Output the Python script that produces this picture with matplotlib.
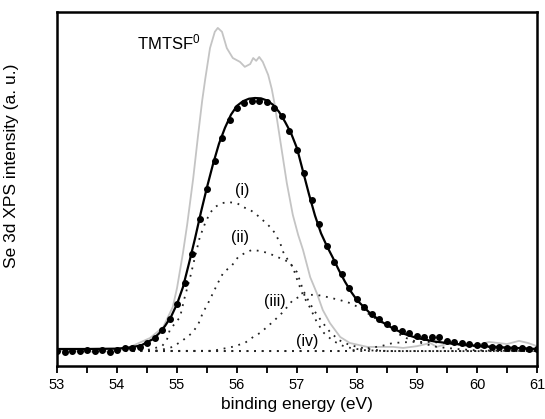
import matplotlib
matplotlib.use("Agg")
import matplotlib.pyplot as plt
from matplotlib.ticker import MultipleLocator, NullLocator

plt.rcParams['font.family'] = ['Liberation Sans', 'DejaVu Sans']
plt.rcParams['mathtext.fontset'] = 'custom'
plt.rcParams['mathtext.rm'] = 'Liberation Sans'
plt.rcParams['mathtext.it'] = 'Liberation Sans:italic'

# ---- measured data (dots) ----
data_x = [53.0, 53.125, 53.25, 53.375, 53.5, 53.625, 53.75, 53.875, 54.0, 54.125,
          54.25, 54.375, 54.5, 54.625, 54.75, 54.875, 55.0, 55.125, 55.25, 55.375,
          55.5, 55.625, 55.75, 55.875, 56.0, 56.125, 56.25, 56.375, 56.5, 56.625,
          56.75, 56.875, 57.0, 57.125, 57.25, 57.375, 57.5, 57.625, 57.75, 57.875,
          58.0, 58.125, 58.25, 58.375, 58.5, 58.625, 58.75, 58.875, 59.0, 59.125,
          59.25, 59.375, 59.5, 59.625, 59.75, 59.875, 60.0, 60.125, 60.25, 60.375,
          60.5, 60.625, 60.75, 60.875, 61.0]
data_y = [4.3, 4.0, 4.3, 4.1, 4.5, 4.2, 4.4, 4.0, 4.6, 5.0,
          5.2, 5.5, 6.5, 7.8, 10.2, 13.4, 17.5, 23.5, 31.5, 41.5,
          50.0, 58.0, 64.5, 69.5, 72.8, 74.2, 74.8, 74.9, 74.6, 73.0,
          70.5, 66.5, 61.0, 54.5, 47.0, 40.0, 34.0, 29.5, 26.0, 22.0,
          19.0, 16.8, 14.8, 13.3, 11.8, 10.8, 9.8, 9.2, 8.5, 8.3,
          8.3, 8.2, 7.0, 6.8, 6.5, 6.2, 6.0, 5.8, 5.5, 5.3,
          5.2, 5.0, 5.0, 4.8, 4.9]

# ---- fit envelope (solid line) ----
fit_x = [53.0, 53.5, 54.0, 54.2, 54.4, 54.6, 54.7, 54.8, 54.9, 55.0, 55.1, 55.2,
         55.3, 55.4, 55.5, 55.6, 55.7, 55.8, 55.9, 56.0, 56.1, 56.2, 56.3, 56.4,
         56.5, 56.6, 56.7, 56.8, 56.9, 57.0, 57.1, 57.2, 57.3, 57.4, 57.5, 57.6,
         57.7, 57.8, 57.9, 58.0, 58.2, 58.4, 58.6, 58.8, 59.0, 59.3, 59.6, 60.0,
         60.5, 61.0]
fit_y = [4.8, 4.8, 4.9, 5.2, 5.8, 7.6, 9.2, 11.3, 13.9, 17.5, 22.3, 29.0,
         36.0, 43.5, 50.5, 57.0, 62.8, 67.3, 71.0, 73.5, 74.8, 75.5, 75.7, 75.6,
         75.0, 73.8, 71.8, 69.0, 65.8, 61.5, 55.0, 48.5, 42.5, 37.5, 33.8, 30.5,
         27.0, 23.8, 21.0, 18.6, 15.2, 12.6, 10.6, 9.0, 7.9, 6.9, 6.3, 5.7,
         5.2, 4.8]

# ---- TMTSF0 reference spectrum (grey) ----
ref_x = [53.0, 53.5, 54.0, 54.22, 54.55, 54.77, 54.93, 55.0, 55.05, 55.1, 55.17, 55.27,
         55.35, 55.42, 55.47, 55.55, 55.63, 55.68, 55.75, 55.83, 55.93,
         56.05, 56.13, 56.22, 56.27, 56.32, 56.37, 56.43, 56.52, 56.58, 56.63,
         56.72, 56.83, 56.93, 57.02, 57.1, 57.22, 57.33, 57.43, 57.55, 57.72,
         57.88, 58.17, 58.6, 58.77, 59.0, 59.22, 59.33, 59.55, 59.8, 60.0,
         60.2, 60.5, 60.7, 60.85, 61.0]
ref_y = [4.4, 4.0, 4.2, 5.4, 7.9, 11.0, 16.7, 22.0, 27.0, 32.0, 40.0, 53.0,
         65.0, 75.0, 81.0, 89.8, 94.4, 95.5, 94.4, 89.8, 87.0,
         85.9, 84.5, 85.3, 87.0, 86.2, 87.3, 85.9, 82.2, 78.2, 73.7,
         63.8, 51.7, 42.7, 37.0, 32.8, 25.1, 20.6, 15.8, 12.1, 8.2,
         6.5, 5.4, 5.4, 5.1, 5.6, 6.5, 5.4, 6.5, 5.6, 5.9,
         6.8, 6.2, 7.1, 6.5, 5.6]

# ---- fitted components (dotted) ----
base_x = [53.0, 61.0]
base_y = [4.2, 4.2]

c1_x = [53.0, 54.5, 54.75, 54.83, 54.88, 55.05, 55.13, 55.22, 55.3, 55.38, 55.47,
        55.55, 55.63, 55.75, 55.85, 56.0, 56.1, 56.22, 56.33, 56.43, 56.55,
        56.63, 56.72, 56.77, 56.85, 56.93, 57.0, 57.1, 57.22, 57.33, 57.45,
        57.6, 57.8, 58.1, 58.5, 61.0]
c1_y = [4.2, 4.5, 5.6, 7.3, 10.2, 13.8, 19.5, 25.1, 30.8, 36.4, 40.4,
        43.2, 44.9, 46.0, 46.3, 46.0, 44.9, 44.1, 42.7, 41.2, 39.3,
        37.6, 34.7, 32.2, 29.9, 28.0, 24.5, 20.0, 16.4, 12.4, 9.3,
        7.1, 5.4, 4.5, 4.2, 4.2]

c2_x = [53.0, 54.7, 54.93, 55.1, 55.25, 55.35, 55.43, 55.52, 55.6, 55.68, 55.77,
        55.92, 56.02, 56.13, 56.25, 56.38, 56.52, 56.67, 56.8, 56.88, 57.0,
        57.1, 57.2, 57.3, 57.42, 57.55, 57.7, 57.88, 58.17, 58.5, 61.0]
c2_y = [4.2, 4.4, 5.4, 7.3, 9.3, 11.6, 15.0, 17.8, 20.6, 23.4, 26.3,
        28.5, 30.8, 31.9, 32.8, 32.5, 31.9, 30.8, 29.9, 29.1, 26.5,
        21.5, 18.1, 15.3, 12.4, 9.6, 7.3, 5.9, 4.8, 4.2, 4.2]

c3_x = [53.0, 55.6, 55.92, 56.13, 56.27, 56.38, 56.5, 56.63, 56.77, 56.93, 57.1,
        57.33, 57.5, 57.72, 57.88, 58.05, 58.22, 58.43, 58.6, 58.77, 59.0,
        59.33, 59.67, 60.0, 61.0]
c3_y = [4.2, 4.3, 5.4, 6.5, 8.2, 9.3, 11.0, 13.0, 15.3, 18.6, 20.1,
        20.1, 19.5, 18.6, 17.8, 16.4, 14.4, 12.1, 10.2, 8.2, 6.8,
        5.4, 4.8, 4.4, 4.2]

c4_x = [53.0, 57.8, 58.1, 58.4, 58.6, 58.9, 59.2, 59.5, 59.8, 60.1, 60.5, 61.0]
c4_y = [4.2, 4.2, 4.8, 5.6, 6.5, 6.8, 6.8, 6.5, 5.9, 5.4, 5.1, 4.8]

xticks = [53, 54, 55, 56, 57, 58, 59, 60, 61]

fig = plt.figure(figsize=(5.45, 4.19), dpi=100)
ax = fig.add_axes([0.1046, 0.1265, 0.8807, 0.8449])

ax.plot(ref_x, ref_y, color='#c4c4c4', lw=1.3, zorder=2)
dot = (0, (1, 3.2))
for cx, cy in [(base_x, base_y), (c1_x, c1_y), (c2_x, c2_y), (c3_x, c3_y), (c4_x, c4_y)]:
    ax.plot(cx, cy, color='#222222', lw=1.3, linestyle=dot, zorder=3)
ax.plot(fit_x, fit_y, color='black', lw=1.6, zorder=4)
ax.plot(data_x, data_y, 'o', color='black', ms=4.0, mec='black', zorder=5)

ax.text(54.33, 89.3, r'TMTSF$^0$', fontsize=12, ha='left', va='baseline')
ax.text(56.08, 49.7, '(i)', fontsize=11.5, ha='center', va='center')
ax.text(56.05, 36.4, '(ii)', fontsize=11.5, ha='center', va='center')
ax.text(56.63, 18.1, '(iii)', fontsize=11.5, ha='center', va='center')
ax.text(57.17, 6.8, '(iv)', fontsize=11.5, ha='center', va='center')

ax.set_xlim(53, 61)
ax.set_ylim(0, 100)
ax.set_xticks(xticks)
ax.set_xticklabels([str(t) for t in xticks], fontsize=10.5)
ax.xaxis.set_minor_locator(MultipleLocator(0.5))
ax.yaxis.set_major_locator(NullLocator())
ax.tick_params(axis='x', which='both', direction='out', length=5, width=1.3)
for s in ax.spines.values():
    s.set_linewidth(1.8)

ax.set_xlabel('binding energy (eV)', fontsize=12.5, labelpad=4)
ax.set_ylabel('Se 3d XPS intensity (a. u.)', fontsize=12.5)
ax.yaxis.set_label_coords(-0.079, 0.565)

fig.savefig('out.png', dpi=100)
